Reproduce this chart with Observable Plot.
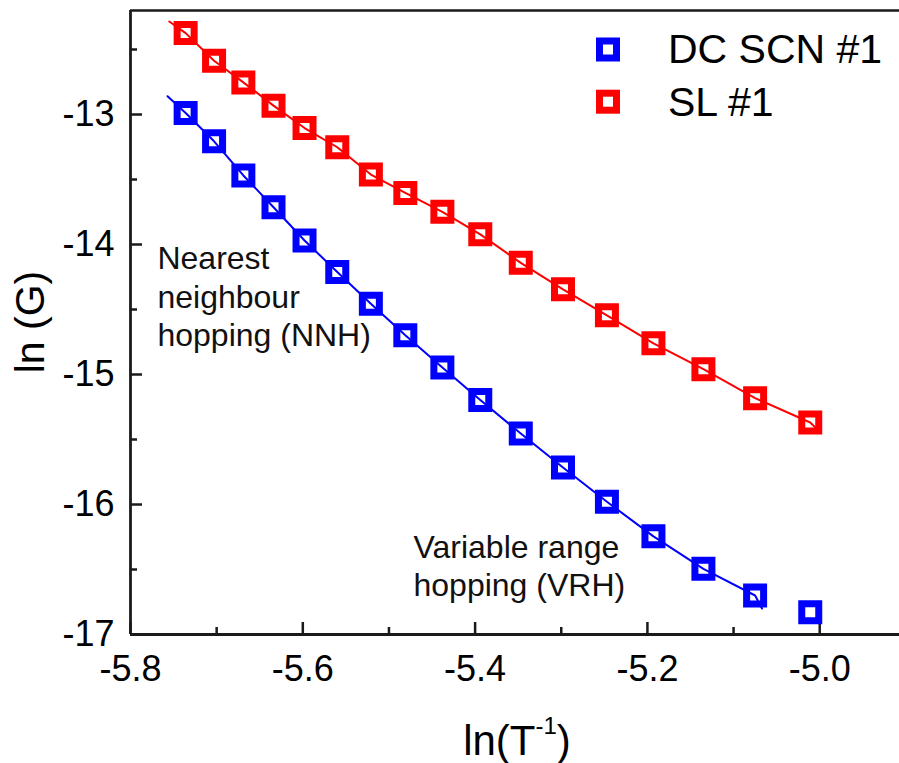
<!DOCTYPE html>
<html>
<head>
<meta charset="utf-8">
<script src="https://cdn.jsdelivr.net/npm/d3@7"></script>
<script src="https://cdn.jsdelivr.net/npm/@observablehq/plot@0.6"></script>
<style>
  html, body { margin: 0; padding: 0; background: #fff; overflow: hidden; }
  #chart { position: relative; width: 899px; height: 763px; }
</style>
</head>
<body>
<div id="chart"></div>
<script>
// ---- data ----
const lnInvT = [-5.736, -5.703, -5.669, -5.634, -5.598, -5.560, -5.521, -5.481, -5.438, -5.394, -5.347, -5.298, -5.247, -5.193, -5.135, -5.075, -5.011];
const lnG_DCSCN = [-12.988, -13.206, -13.469, -13.713, -13.969, -14.212, -14.455, -14.698, -14.947, -15.197, -15.454, -15.715, -15.979, -16.245, -16.495, -16.700, -16.829];
const lnG_SL = [-12.374, -12.586, -12.753, -12.932, -13.104, -13.252, -13.462, -13.603, -13.749, -13.922, -14.141, -14.345, -14.545, -14.760, -14.959, -15.182, -15.369];

// fitted curves: pass through the points, with short extensions at the ends
const fitDCSCN_start = {x: -5.757, y: -12.860};
const fitDCSCN_end = {x: -5.067, y: -16.80};
const fitDCSCN_count = 16; // the fit stops before the last point
const fitSL_start = {x: -5.755, y: -12.285};
const fitSL_end = {x: -5.000, y: -15.44};

const seriesNames = ["DC SCN #1", "SL #1"];
const seriesColors = ["#0000ff", "#ff0000"];

const xMajorTicks = [-5.8, -5.6, -5.4, -5.2, -5.0];
const xMinorTicks = [-5.7, -5.5, -5.3, -5.1];
const yMajorTicks = [-17, -16, -15, -14, -13];
const yMinorTicks = [-16.5, -15.5, -14.5, -13.5, -12.5];
const xDomain = [-5.8, -4.9074];
const yDomain = [-17, -12.2];

const annotations = [
  {x: -5.7687, y: -13.982, text: "Nearest\nneighbour\nhopping (NNH)"},
  {x: -5.4715, y: -16.200, text: "Variable range\nhopping (VRH)"}
];

// ---- build tables ----
const points = [];
lnInvT.forEach((x, i) => {
  points.push({x, y: lnG_DCSCN[i], s: seriesNames[0]});
  points.push({x, y: lnG_SL[i], s: seriesNames[1]});
});
const fits = [
  {...fitDCSCN_start, s: seriesNames[0]},
  ...lnInvT.slice(0, fitDCSCN_count).map((x, i) => ({x, y: lnG_DCSCN[i], s: seriesNames[0]})),
  {...fitDCSCN_end, s: seriesNames[0]},
  {...fitSL_start, s: seriesNames[1]},
  ...lnInvT.map((x, i) => ({x, y: lnG_SL[i], s: seriesNames[1]})),
  {...fitSL_end, s: seriesNames[1]}
];

const FONT = "'Liberation Sans', Arial, Helvetica, sans-serif";
const AX = "#1a1a1a";

const chart = Plot.plot({
  width: 899,
  height: 763,
  marginLeft: 130,
  marginRight: 0,
  marginTop: 10,
  marginBottom: 129,
  style: {fontFamily: FONT, background: "#fff", color: "#000", overflow: "visible"},
  x: {domain: xDomain, label: null},
  y: {domain: yDomain, label: null},
  color: {domain: seriesNames, range: seriesColors},
  marks: [
    Plot.axisX(xMajorTicks, {tickSize: -12, tickPadding: 33, tickFormat: d => d.toFixed(1), fontSize: 36, stroke: AX, strokeWidth: 2.5, fill: "#000"}),
    Plot.axisX(xMinorTicks, {tickSize: -7, tickFormat: () => "", stroke: AX, strokeWidth: 2.5}),
    Plot.axisY(yMajorTicks, {tickSize: -12, tickPadding: 28, tickFormat: d => String(d), fontSize: 36, stroke: AX, strokeWidth: 2.5, fill: "#000"}),
    Plot.axisY(yMinorTicks, {tickSize: -7, tickFormat: () => "", stroke: AX, strokeWidth: 2.5}),
    Plot.ruleY([yDomain[0]], {stroke: AX, strokeWidth: 2.8}),
    Plot.ruleY([yDomain[1]], {stroke: AX, strokeWidth: 2.5}),
    Plot.ruleX([xDomain[0]], {stroke: AX, strokeWidth: 2.8}),
    Plot.line(fits, {x: "x", y: "y", z: "s", stroke: "s", strokeWidth: 2}),
    Plot.dot(points, {x: "x", y: "y", stroke: "s", symbol: "square", r: 9.59, strokeWidth: 7, fill: "none", strokeLinejoin: "miter"}),
    Plot.text(annotations, {x: "x", y: "y", text: "text", textAnchor: "start", lineAnchor: "top", lineHeight: 1.2, fontSize: 32, fill: "#111"})
  ]
});

document.getElementById("chart").appendChild(chart);

// ---- axis titles and legend ----
const svg = d3.select(chart);
const xt = svg.append("text")
  .attr("x", 517).attr("y", 755)
  .attr("text-anchor", "middle")
  .attr("font-family", FONT).attr("font-size", 42).attr("fill", "#000");
xt.append("tspan").text("ln(T");
xt.append("tspan").attr("font-size", 24).attr("dy", -21).text("-1");
xt.append("tspan").attr("dy", 21).text(")");

svg.append("text")
  .attr("transform", "translate(44,322) rotate(-90)")
  .attr("text-anchor", "middle")
  .attr("font-family", FONT).attr("font-size", 41).attr("fill", "#000")
  .text("ln (G)");

const legend = svg.append("g");
const legendRows = [{cy: 49.5, base: 63}, {cy: 101.7, base: 116}];
seriesNames.forEach((name, i) => {
  legend.append("rect")
    .attr("x", 608 - 8.5).attr("y", legendRows[i].cy - 8.5)
    .attr("width", 17).attr("height", 17)
    .attr("fill", "none").attr("stroke", seriesColors[i]).attr("stroke-width", 7);
  legend.append("text")
    .attr("x", 668).attr("y", legendRows[i].base)
    .attr("text-anchor", "start")
    .attr("font-family", FONT).attr("font-size", 41).attr("fill", "#000")
    .text(name);
});
</script>
</body>
</html>
